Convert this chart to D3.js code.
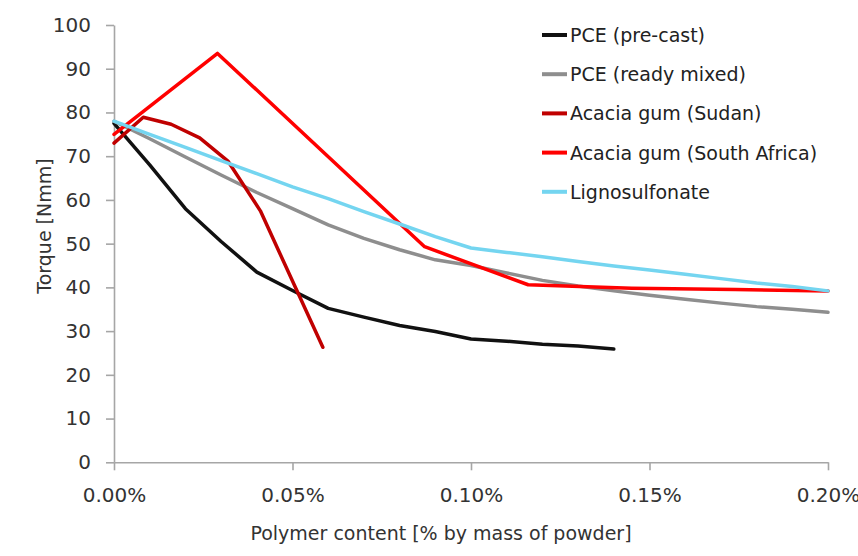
<!DOCTYPE html>
<html>
<head>
<meta charset="utf-8">
<script src="https://cdn.jsdelivr.net/npm/d3@7/dist/d3.min.js"></script>
<style>
  body { margin: 0; background: #fff; }
  svg { display: block; font-family: "DejaVu Sans", sans-serif; }
</style>
</head>
<body>
<svg width="858" height="556"></svg>
<script>
// values: [polymer %, torque Nmm]
var pcePrecast = [[0, 77.5], [0.01, 68], [0.02, 58], [0.03, 50.5], [0.04, 43.5], [0.05, 39.3],
  [0.06, 35.2], [0.07, 33.2], [0.08, 31.3], [0.09, 29.9], [0.10, 28.2], [0.11, 27.7],
  [0.12, 27.0], [0.13, 26.6], [0.14, 25.9]];
var pceReadyMixed = [[0, 78], [0.01, 74], [0.02, 69.8], [0.03, 65.7], [0.04, 61.7], [0.05, 58],
  [0.06, 54.3], [0.07, 51.2], [0.08, 48.6], [0.09, 46.3], [0.10, 45], [0.11, 43.3],
  [0.12, 41.6], [0.13, 40.3], [0.14, 39.2], [0.15, 38.2], [0.16, 37.3], [0.17, 36.4],
  [0.18, 35.6], [0.19, 35], [0.20, 34.3]];
var acaciaSudan = [[0, 73], [0.0082, 78.9], [0.016, 77.3], [0.024, 74.2], [0.032, 68.8],
  [0.041, 57.5], [0.0585, 26.3]];
var acaciaSouthAfrica = [[0, 75], [0.029, 93.5], [0.087, 49.3], [0.116, 40.6], [0.145, 39.8],
  [0.174, 39.5], [0.20, 39.2]];
var lignosulfonate = [[0, 78], [0.01, 75], [0.02, 72], [0.03, 69], [0.04, 66], [0.05, 63],
  [0.06, 60.3], [0.07, 57.3], [0.08, 54.5], [0.09, 51.6], [0.10, 49], [0.11, 48],
  [0.12, 47], [0.13, 45.9], [0.14, 44.9], [0.15, 44], [0.16, 43], [0.17, 42],
  [0.18, 41], [0.19, 40.2], [0.20, 39.2]];

var seriesNames = ["PCE (pre-cast)", "PCE (ready mixed)", "Acacia gum (Sudan)",
  "Acacia gum (South Africa)", "Lignosulfonate"];
var seriesValues = [pcePrecast, pceReadyMixed, acaciaSudan, acaciaSouthAfrica, lignosulfonate];
var seriesColors = ["#111111", "#8e8e8e", "#c00000", "#ff0000", "#74d5f0"];

var xTicks = [0, 0.05, 0.10, 0.15, 0.20];
var yTicks = [0, 10, 20, 30, 40, 50, 60, 70, 80, 90, 100];

var svg = d3.select("svg");

var x = d3.scaleLinear().domain([0, 0.2]).range([114, 828]),
  y = d3.scaleLinear().domain([0, 100]).range([462.3, 25]);

var axisColor = "#a6a6a6",
  textColor = "#333";

// y axis
svg.append("g")
  .attr("transform", "translate(114,0)")
  .call(d3.axisLeft(y).tickValues(yTicks).tickSize(8).tickSizeOuter(0).tickPadding(15)
    .tickFormat(d3.format("d")));

// x axis
svg.append("g")
  .attr("transform", "translate(0,462.3)")
  .call(d3.axisBottom(x).tickValues(xTicks).tickSize(8).tickSizeOuter(0).tickPadding(18)
    .tickFormat(d => d3.format(".2f")(d) + "%"));

svg.selectAll(".domain, .tick line").attr("stroke", axisColor).attr("stroke-width", 1.6);
svg.selectAll(".tick text")
  .attr("fill", textColor)
  .style("font-family", "DejaVu Sans, sans-serif")
  .style("font-size", "20px");

// axis titles
svg.append("text")
  .attr("x", 441)
  .attr("y", 540)
  .attr("text-anchor", "middle")
  .attr("fill", textColor)
  .style("font-size", "19px")
  .text("Polymer content [% by mass of powder]");

svg.append("text")
  .attr("transform", "translate(51,226) rotate(-90)")
  .attr("text-anchor", "middle")
  .attr("fill", textColor)
  .style("font-size", "19px")
  .text("Torque [Nmm]");

// lines
var line = d3.line().x(d => x(d[0])).y(d => y(d[1]));

svg.append("g")
  .selectAll("path")
  .data(seriesValues)
  .enter()
  .append("path")
  .attr("d", line)
  .attr("fill", "none")
  .attr("stroke", (d, i) => seriesColors[i])
  .attr("stroke-width", 3.5)
  .attr("stroke-linejoin", "round")
  .attr("stroke-linecap", "round");

// legend
var legend = svg.append("g")
  .selectAll("g")
  .data(seriesNames)
  .enter()
  .append("g")
  .attr("transform", (d, i) => "translate(542," + (35 + i * 39.2) + ")");

legend.append("line")
  .attr("x1", 0)
  .attr("x2", 25)
  .attr("stroke", (d, i) => seriesColors[i])
  .attr("stroke-width", 4);

legend.append("text")
  .attr("x", 28)
  .attr("y", 7)
  .attr("fill", "#222")
  .style("font-size", "19px")
  .text(d => d);
</script>
</body>
</html>
